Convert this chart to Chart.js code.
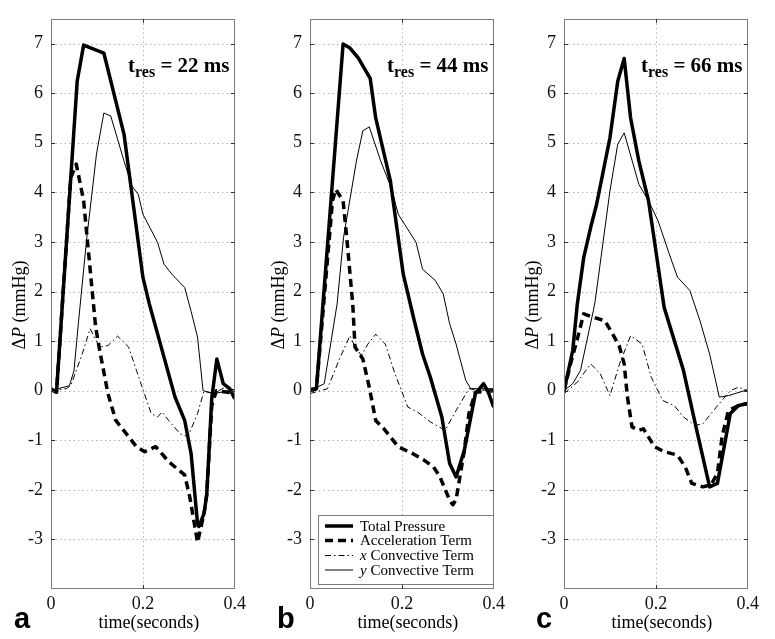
<!DOCTYPE html>
<html>
<head>
<meta charset="utf-8">
<script src="https://cdn.jsdelivr.net/npm/chart.js@4.4.1/dist/chart.umd.min.js"></script>
<style>
  html, body { margin: 0; padding: 0; background: #fff; }
  body { width: 775px; height: 639px; position: relative; overflow: hidden; }
  canvas { position: absolute; top: 0; }
</style>
</head>
<body>
<canvas id="panel-a" width="250" height="639" style="left:0px"></canvas>
<canvas id="panel-b" width="250" height="639" style="left:259px"></canvas>
<canvas id="panel-c" width="250" height="639" style="left:513px"></canvas>
<script>
// ticks
const X_TICKS = [0, 0.2, 0.4];
const Y_TICKS = [-3, -2, -1, 0, 1, 2, 3, 4, 5, 6, 7];

// panel a  (t_res = 22 ms)
const aTotalT = [0, 0.012, 0.057, 0.071, 0.115, 0.159, 0.2, 0.214, 0.27, 0.291, 0.305, 0.319, 0.322, 0.333, 0.339, 0.35, 0.361, 0.375, 0.389, 0.4];
const aTotalP = [0.04, -0.03, 6.24, 6.97, 6.81, 5.17, 2.29, 1.75, -0.13, -0.6, -1.27, -2.68, -2.74, -2.48, -2.1, -0.15, 0.64, 0.14, 0.04, -0.16];
const aAccT   = [0, 0.012, 0.043, 0.055, 0.071, 0.097, 0.106, 0.124, 0.141, 0.169, 0.186, 0.204, 0.228, 0.256, 0.27, 0.291, 0.302, 0.319, 0.333, 0.339, 0.35, 0.36, 0.4];
const aAccP   = [0.02, -0.03, 4.3, 4.57, 3.83, 1.3, 0.81, -0.06, -0.6, -0.93, -1.13, -1.23, -1.13, -1.43, -1.54, -1.7, -2.14, -3.06, -2.48, -2.1, -0.3, 0, -0.05];
const aXconvT = [0, 0.033, 0.043, 0.068, 0.085, 0.106, 0.124, 0.145, 0.169, 0.186, 0.218, 0.232, 0.242, 0.256, 0.281, 0.298, 0.319, 0.333, 0.354, 0.375, 0.4];
const aXconvP = [-0.01, 0.04, 0.1, 0.74, 1.25, 0.88, 0.91, 1.1, 0.88, 0.41, -0.46, -0.53, -0.43, -0.6, -0.87, -0.93, -0.46, -0.01, -0.06, 0.05, 0.02];
const aYconvT = [0, 0.04, 0.05, 0.06, 0.078, 0.099, 0.115, 0.13, 0.159, 0.176, 0.19, 0.2, 0.232, 0.246, 0.263, 0.291, 0.305, 0.319, 0.331, 0.354, 0.4];
const aYconvP = [0, 0.1, 0.4, 1.4, 3.09, 4.77, 5.6, 5.54, 4.63, 4.13, 3.96, 3.56, 2.99, 2.55, 2.35, 2.08, 1.6, 1.08, 0, -0.06, 0.02];

// panel b  (t_res = 44 ms)
const bTotalT = [0, 0.014, 0.072, 0.087, 0.105, 0.131, 0.143, 0.175, 0.203, 0.227, 0.245, 0.262, 0.287, 0.304, 0.318, 0.336, 0.36, 0.378, 0.388, 0.4];
const bTotalP = [0.02, 0.04, 6.99, 6.91, 6.71, 6.3, 5.5, 4.23, 2.35, 1.41, 0.74, 0.27, -0.53, -1.47, -1.74, -1.2, -0.06, 0.14, -0.03, -0.33];
const bAccT   = [0, 0.014, 0.049, 0.056, 0.072, 0.08, 0.093, 0.098, 0.115, 0.129, 0.143, 0.161, 0.192, 0.224, 0.248, 0.269, 0.283, 0.304, 0.311, 0.318, 0.336, 0.346, 0.36, 0.4];
const bAccP   = [0.02, 0.04, 3.83, 4.06, 3.83, 3.09, 1.75, 0.88, 0.64, 0.07, -0.6, -0.77, -1.13, -1.27, -1.4, -1.54, -1.74, -2.21, -2.3, -2.2, -1.2, -0.46, -0.03, 0];
const bXconvT = [0, 0.038, 0.066, 0.087, 0.098, 0.112, 0.126, 0.143, 0.164, 0.185, 0.213, 0.234, 0.262, 0.294, 0.318, 0.346, 0.36, 0.4];
const bXconvP = [-0.06, 0.04, 0.68, 1.11, 0.88, 0.71, 0.94, 1.14, 0.94, 0.34, -0.33, -0.43, -0.63, -0.8, -0.4, 0.04, 0.02, 0];
const bYconvT = [0, 0.031, 0.059, 0.073, 0.101, 0.115, 0.129, 0.154, 0.178, 0.192, 0.231, 0.245, 0.273, 0.29, 0.304, 0.318, 0.339, 0.35, 0.4];
const bYconvP = [0, 0.14, 1.75, 3.09, 4.63, 5.24, 5.32, 4.63, 4.06, 3.56, 2.99, 2.45, 2.22, 1.95, 1.35, 0.94, 0.21, 0.04, 0.04];

// panel c  (t_res = 66 ms)
const cTotalT = [0, 0.019, 0.029, 0.043, 0.058, 0.071, 0.1, 0.117, 0.131, 0.145, 0.163, 0.184, 0.218, 0.26, 0.289, 0.317, 0.334, 0.362, 0.38, 0.4];
const cTotalP = [-0.01, 0.81, 1.75, 2.69, 3.29, 3.76, 5.1, 6.24, 6.7, 5.5, 4.63, 3.83, 1.68, 0.41, -0.8, -1.94, -1.87, -0.46, -0.3, -0.26];
const cAccT   = [0, 0.016, 0.03, 0.043, 0.064, 0.089, 0.106, 0.12, 0.131, 0.138, 0.148, 0.163, 0.173, 0.197, 0.218, 0.247, 0.264, 0.278, 0.302, 0.32, 0.334, 0.344, 0.358, 0.38, 0.4];
const cAccP   = [0, 0.6, 1.08, 1.55, 1.48, 1.41, 1.14, 0.91, 0.54, -0.12, -0.73, -0.8, -0.77, -1.13, -1.23, -1.3, -1.54, -1.87, -1.94, -1.9, -1.67, -0.93, -0.4, -0.3, -0.26];
const cXconvT = [0, 0.029, 0.058, 0.079, 0.1, 0.121, 0.145, 0.17, 0.19, 0.215, 0.24, 0.26, 0.285, 0.302, 0.338, 0.362, 0.38, 0.4];
const cXconvP = [-0.06, 0.17, 0.54, 0.34, -0.1, 0.54, 1.11, 0.94, 0.27, -0.2, -0.3, -0.53, -0.7, -0.67, -0.26, 0, 0.07, 0];
const cYconvT = [0, 0.019, 0.036, 0.064, 0.068, 0.1, 0.117, 0.131, 0.163, 0.184, 0.205, 0.229, 0.247, 0.274, 0.296, 0.317, 0.338, 0.358, 0.4];
const cYconvP = [0, 0.14, 0.41, 1.62, 1.82, 4.03, 4.97, 5.2, 4.16, 3.83, 3.42, 2.76, 2.29, 2.02, 1.41, 0.74, -0.13, -0.1, 0.02];

const SERIES_LABELS = ["Total Pressure", "Acceleration Term", "Convective Term", "Convective Term"];

const SERIF = "'Liberation Serif', 'Times New Roman', serif";
const SANS  = "'Liberation Sans', Arial, sans-serif";

const STYLE = [
  { width: 3.5, dash: [] },
  { width: 3.5, dash: [8, 5] },
  { width: 1,   dash: [6, 3, 1.5, 3] },
  { width: 1,   dash: [] },
];

function pts(ts, ps) {
  return ts.map((t, i) => ({ x: t, y: ps[i] }));
}

// draws a run of text pieces with their own fonts, left to right
function richText(ctx, parts, x, y) {
  let cx = x;
  parts.forEach(p => {
    ctx.font = p.font;
    ctx.fillText(p.text, cx, y + (p.dy || 0));
    cx += ctx.measureText(p.text).width;
  });
  return cx - x;
}
function richWidth(ctx, parts) {
  let w = 0;
  parts.forEach(p => { ctx.font = p.font; w += ctx.measureText(p.text).width; });
  return w;
}

const panelDeco = {
  id: "panelDeco",
  // dotted grid under the curves
  beforeDatasetsDraw(chart) {
    const { ctx, scales: { x, y } } = chart;
    const L = x.left, R = x.right, T = y.top, B = y.bottom;
    ctx.save();
    ctx.beginPath();
    ctx.rect(L, T, R - L, B - T);
    ctx.clip();
    ctx.strokeStyle = "#b4b4b4";
    ctx.lineWidth = 1;
    ctx.setLineDash([1.5, 3]);
    ctx.beginPath();
    Y_TICKS.forEach(v => {
      const py = Math.round(y.getPixelForValue(v)) + 0.5;
      ctx.moveTo(L, py); ctx.lineTo(R, py);
    });
    const px = Math.round(x.getPixelForValue(0.2)) + 0.5;
    ctx.moveTo(px, T); ctx.lineTo(px, B);
    ctx.stroke();
    ctx.restore();
  },
  afterDraw(chart, args, opts) {
    const { ctx, chartArea: a, scales: { x, y } } = chart;
    ctx.save();
    ctx.fillStyle = "#000";

    // frame + inside ticks
    ctx.strokeStyle = "#7a7a7a";
    ctx.lineWidth = 1;
    ctx.setLineDash([]);
    ctx.strokeRect(Math.round(a.left) + 0.5, Math.round(a.top) + 0.5, Math.round(a.width) - 1, Math.round(a.height) - 1);
    ctx.strokeStyle = "#333";
    Y_TICKS.forEach(v => {
      const py = Math.round(y.getPixelForValue(v)) + 0.5;
      ctx.beginPath();
      ctx.moveTo(a.left, py); ctx.lineTo(a.left + 4, py);
      ctx.moveTo(a.right, py); ctx.lineTo(a.right - 4, py);
      ctx.stroke();
    });
    const px = Math.round(x.getPixelForValue(0.2)) + 0.5;
    ctx.beginPath();
    ctx.moveTo(px, a.bottom); ctx.lineTo(px, a.bottom - 4);
    ctx.moveTo(px, a.top); ctx.lineTo(px, a.top + 4);
    ctx.stroke();

    // t_res note
    ctx.textBaseline = "alphabetic";
    ctx.textAlign = "left";
    richText(ctx, [
      { text: "t", font: "bold 21px " + SERIF },
      { text: "res", font: "bold 16px " + SERIF, dy: 5 },
      { text: " = " + opts.tres + " ms", font: "bold 21px " + SERIF },
    ], a.left + 77, 72);

    // y title, rotated
    const yParts = [
      { text: "\u0394", font: "18px " + SERIF },
      { text: "P", font: "italic 18px " + SERIF },
      { text: " (mmHg)", font: "18px " + SERIF },
    ];
    ctx.save();
    ctx.translate(25, 305);
    ctx.rotate(-Math.PI / 2);
    richText(ctx, yParts, -richWidth(ctx, yParts) / 2, 0);
    ctx.restore();

    // x title
    ctx.font = "18px " + SERIF;
    ctx.textAlign = "center";
    ctx.fillText("time(seconds)", (a.left + a.right) / 2 + 6, 628);

    // panel letter
    ctx.font = "bold 29px " + SANS;
    ctx.textAlign = "left";
    ctx.fillText(opts.letter, opts.letterX, 628);

    // legend
    if (opts.legend) {
      const lx = a.left + 8, ly = 515, lw = 175, lh = 69;
      ctx.fillStyle = "#fff";
      ctx.fillRect(lx, ly, lw, lh);
      ctx.strokeStyle = "#7a7a7a";
      ctx.lineWidth = 1;
      ctx.strokeRect(lx + 0.5, ly + 0.5, lw, lh);
      const rows = [526, 540.5, 555.5, 570];
      ctx.fillStyle = "#000";
      ctx.textBaseline = "middle";
      SERIES_LABELS.forEach((lab, i) => {
        ctx.strokeStyle = "#000";
        ctx.lineWidth = STYLE[i].width;
        ctx.setLineDash(STYLE[i].dash);
        ctx.beginPath();
        ctx.moveTo(a.left + 15, rows[i]);
        ctx.lineTo(a.left + 43, rows[i]);
        ctx.stroke();
        ctx.setLineDash([]);
        const parts = i < 2
          ? [{ text: lab, font: "15px " + SERIF }]
          : [{ text: i === 2 ? "x" : "y", font: "italic 15px " + SERIF }, { text: " " + lab, font: "15px " + SERIF }];
        richText(ctx, parts, a.left + 50, rows[i] + 1);
      });
    }
    ctx.restore();
  },
};

function makePanel(id, series, deco) {
  return new Chart(document.getElementById(id), {
    type: "line",
    data: {
      datasets: series.map((s, i) => ({
        label: SERIES_LABELS[i],
        data: pts(s[0], s[1]),
        borderColor: "#000",
        borderWidth: STYLE[i].width,
        borderDash: STYLE[i].dash,
        borderJoinStyle: "round",
        pointRadius: 0,
        tension: 0,
        fill: false,
      })),
    },
    options: {
      responsive: false,
      animation: false,
      devicePixelRatio: 1,
      layout: { padding: { top: 14, right: 8, left: 0, bottom: 0 } },
      plugins: { legend: { display: false }, tooltip: { enabled: false }, panelDeco: deco },
      scales: {
        x: {
          type: "linear",
          min: 0,
          max: 0.4,
          afterFit: sc => { sc.height = 50; },
          afterBuildTicks: sc => { sc.ticks = X_TICKS.map(v => ({ value: v })); },
          grid: { display: false, drawTicks: false },
          border: { display: false },
          ticks: {
            padding: 4,
            color: "#111",
            maxRotation: 0,
            font: { family: SERIF, size: 18 },
            callback: v => String(v),
          },
        },
        y: {
          type: "linear",
          min: -4,
          max: 7.5,
          afterFit: sc => { sc.width = 51; },
          afterBuildTicks: sc => { sc.ticks = [-4].concat(Y_TICKS).map(v => ({ value: v })); },
          grid: { display: false, drawTicks: false },
          border: { display: false },
          ticks: {
            padding: 8,
            color: "#111",
            font: { family: SERIF, size: 18 },
            callback: v => (v === -4 ? "" : String(v)),
          },
        },
      },
    },
    plugins: [panelDeco],
  });
}

makePanel("panel-a",
  [[aTotalT, aTotalP], [aAccT, aAccP], [aXconvT, aXconvP], [aYconvT, aYconvP]],
  { tres: 22, letter: "a", letterX: 14, legend: false });
makePanel("panel-b",
  [[bTotalT, bTotalP], [bAccT, bAccP], [bXconvT, bXconvP], [bYconvT, bYconvP]],
  { tres: 44, letter: "b", letterX: 18, legend: true });
makePanel("panel-c",
  [[cTotalT, cTotalP], [cAccT, cAccP], [cXconvT, cXconvP], [cYconvT, cYconvP]],
  { tres: 66, letter: "c", letterX: 23, legend: false });
</script>
</body>
</html>
